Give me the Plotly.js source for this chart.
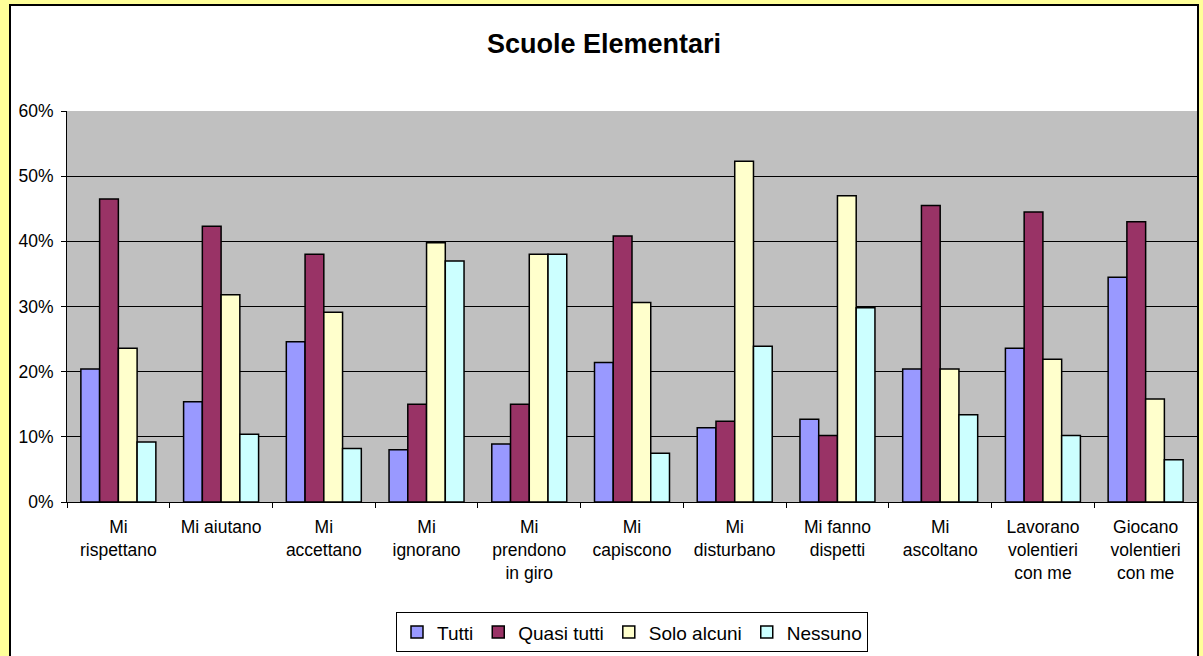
<!DOCTYPE html>
<html>
<head>
<meta charset="utf-8">
<script src="https://cdn.plot.ly/plotly-3.0.1.min.js"></script>
<style>
html,body{margin:0;padding:0;width:1203px;height:656px;overflow:hidden;background:#FFFF99;}
#frame{position:absolute;left:9px;top:4px;width:1186px;height:700px;border:2px solid #000;background:#fff;}
#chart{position:absolute;left:0;top:0;width:1186px;height:652px;}
</style>
</head>
<body>
<div id="frame"><div id="chart"></div></div>
<script>
const categories = [
  "Mi<br>rispettano", "Mi aiutano", "Mi<br>accettano", "Mi<br>ignorano",
  "Mi<br>prendono<br>in giro", "Mi<br>capiscono", "Mi<br>disturbano",
  "Mi fanno<br>dispetti", "Mi<br>ascoltano", "Lavorano<br>volentieri<br>con me",
  "Giocano<br>volentieri<br>con me"
];
const tutti      = [20.4, 15.4, 24.6,  8.0,  8.9, 21.4, 11.4, 12.7, 20.4, 23.6, 34.5];
const quasiTutti = [46.5, 42.3, 38.0, 15.0, 15.0, 40.8, 12.4, 10.2, 45.5, 44.5, 43.0];
const soloAlcuni = [23.6, 31.8, 29.1, 39.8, 38.0, 30.6, 52.3, 47.0, 20.4, 21.9, 15.8];
const nessuno    = [ 9.2, 10.4,  8.2, 37.0, 38.0,  7.5, 23.9, 29.8, 13.4, 10.2,  6.5];
const seriesNames = ["Tutti", "Quasi tutti", "Solo alcuni", "Nessuno"];
const seriesColors = ["#9999FF", "#993366", "#FFFFCC", "#CCFFFF"];
const yTickVals = [0, 10, 20, 30, 40, 50, 60];
const yTickText = ["0%", "10%", "20%", "30%", "40%", "50%", "60%"];

const seriesValues = [tutti, quasiTutti, soloAlcuni, nessuno];
const traces = seriesValues.map((vals, i) => ({
  type: "bar",
  name: seriesNames[i],
  x: categories,
  y: vals,
  marker: {color: seriesColors[i], line: {color: "#000", width: 1.5}},
  hoverinfo: "skip"
}));

const font = "Liberation Sans, Arial, sans-serif";
const layout = {
  width: 1186, height: 652,
  margin: {l: 56, r: 0, t: 105, b: 156},
  paper_bgcolor: "#FFFFFF",
  plot_bgcolor: "#C0C0C0",
  barmode: "group",
  bargap: 0.27,
  bargroupgap: 0,
  font: {family: font, color: "#000", size: 17},
  title: {text: "<b>Scuole Elementari</b>", font: {family: font, size: 27, color: "#000"},
          x: 0.5, xref: "container", xanchor: "center", y: 0.943, yref: "container", yanchor: "middle"},
  xaxis: {
    type: "category",
    showline: true, linecolor: "#000", linewidth: 1,
    ticks: "outside", tickson: "boundaries", ticklen: 5, tickcolor: "#000",
    ticklabelstandoff: 9,
    tickfont: {family: font, size: 17.5, color: "#000"},
    showgrid: false, zeroline: false, automargin: false, tickangle: 0
  },
  yaxis: {
    range: [0, 60], tickmode: "array", tickvals: yTickVals, ticktext: yTickText,
    showline: true, linecolor: "#000", linewidth: 1,
    ticks: "outside", ticklen: 5, tickcolor: "#000",
    ticklabelstandoff: 4,
    showgrid: true, gridcolor: "#000", gridwidth: 1,
    zeroline: false, automargin: false,
    tickfont: {family: font, size: 17.5, color: "#000"}
  },
  legend: {
    orientation: "h", x: 0.5, xanchor: "center", y: -0.282, yanchor: "top",
    bgcolor: "#FFFFFF", bordercolor: "#000", borderwidth: 1,
    font: {family: font, size: 19, color: "#000"},
    traceorder: "normal", itemwidth: 30
  },
  showlegend: true
};

Plotly.newPlot("chart", traces, layout, {staticPlot: true, displayModeBar: false});
</script>
</body>
</html>
